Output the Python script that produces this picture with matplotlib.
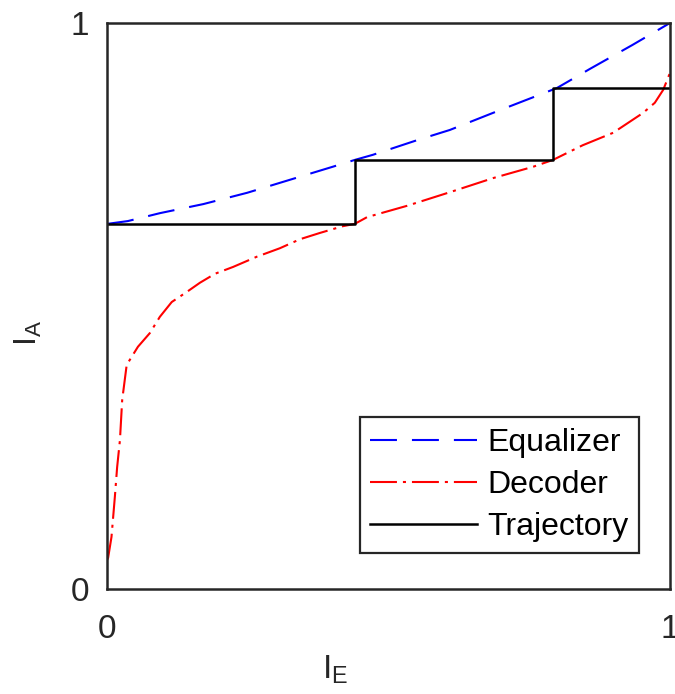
import matplotlib
matplotlib.use("Agg")
import matplotlib.pyplot as plt

plt.rcParams["font.family"] = ["Liberation Sans", "DejaVu Sans"]
plt.rcParams["mathtext.fontset"] = "custom"
plt.rcParams["mathtext.rm"] = "Liberation Sans"
plt.rcParams["lines.scale_dashes"] = False

# EXIT chart curves
ie_equalizer = [0.0, 0.037, 0.094, 0.171, 0.249, 0.325, 0.401, 0.440, 0.472,
                0.551, 0.609, 0.698, 0.799, 0.858, 0.933, 1.0]
ia_equalizer = [0.645, 0.650, 0.664, 0.680, 0.700, 0.723, 0.746, 0.758, 0.767,
                0.793, 0.811, 0.846, 0.885, 0.919, 0.961, 1.0]

ie_decoder = [0.0, 0.002, 0.008, 0.014, 0.018, 0.023, 0.027, 0.035, 0.055,
              0.076, 0.094, 0.115, 0.142, 0.165, 0.192, 0.224, 0.266, 0.307,
              0.343, 0.378, 0.419, 0.440, 0.462, 0.533, 0.609, 0.686, 0.757,
              0.792, 0.845, 0.899, 0.952, 0.973, 0.988, 1.0]
ia_decoder = [0.051, 0.055, 0.092, 0.163, 0.215, 0.263, 0.334, 0.396, 0.428,
              0.452, 0.481, 0.507, 0.525, 0.541, 0.557, 0.569, 0.587, 0.602,
              0.618, 0.629, 0.641, 0.645, 0.657, 0.677, 0.701, 0.726, 0.746,
              0.758, 0.784, 0.806, 0.841, 0.859, 0.882, 0.912]

# Staircase decoding trajectory
ie_traj = [0.0, 0.440, 0.440, 0.792, 0.792, 1.0]
ia_traj = [0.645, 0.645, 0.758, 0.758, 0.885, 0.885]

series_labels = ["Equalizer", "Decoder", "Trajectory"]
tick_values = [0, 1]
tick_labels = ["0", "1"]

axis_color = "#262626"

fig = plt.figure(figsize=(6.75, 6.94), dpi=100)
ax = fig.add_axes([0.1585, 0.1513, 0.8341, 0.8156])

ax.plot(ie_equalizer, ia_equalizer, color="#0000ff", lw=1.5,
        dashes=(19.4, 10.8), label=series_labels[0])
ax.plot(ie_decoder, ia_decoder, color="#ff0000", lw=1.5,
        dashes=(19.4, 4.3, 2.2, 4.3), label=series_labels[1])
ax.plot(ie_traj, ia_traj, color="black", lw=1.8, label=series_labels[2])

ax.set_xlim(0, 1)
ax.set_ylim(0, 1)
ax.set_xticks(tick_values)
ax.set_xticklabels(tick_labels)
ax.set_yticks(tick_values)
ax.set_yticklabels(tick_labels)
ax.tick_params(axis="both", length=0, labelsize=24, labelcolor=axis_color)
ax.tick_params(axis="x", pad=18)
ax.tick_params(axis="y", pad=13)

for side in ax.spines.values():
    side.set_linewidth(1.8)
    side.set_color(axis_color)

ax.text(0.405, -0.142, r"$\mathregular{I_E}$", transform=ax.transAxes,
        ha="center", va="center", fontsize=24, color=axis_color)
ax.text(-0.14, 0.452, r"$\mathregular{I_A}$", transform=ax.transAxes,
        ha="center", va="center", fontsize=23, color=axis_color, rotation=90)

leg = ax.legend(loc="lower left", bbox_to_anchor=(0.449, 0.064),
                borderaxespad=0, fontsize=23, handlelength=3.35,
                handletextpad=0.31, labelspacing=0.38, borderpad=0.33,
                fancybox=False, framealpha=1, edgecolor=axis_color)
leg.get_frame().set_linewidth(1.6)
for txt in leg.get_texts():
    txt.set_color("black")

fig.savefig("out.png", dpi=100)
